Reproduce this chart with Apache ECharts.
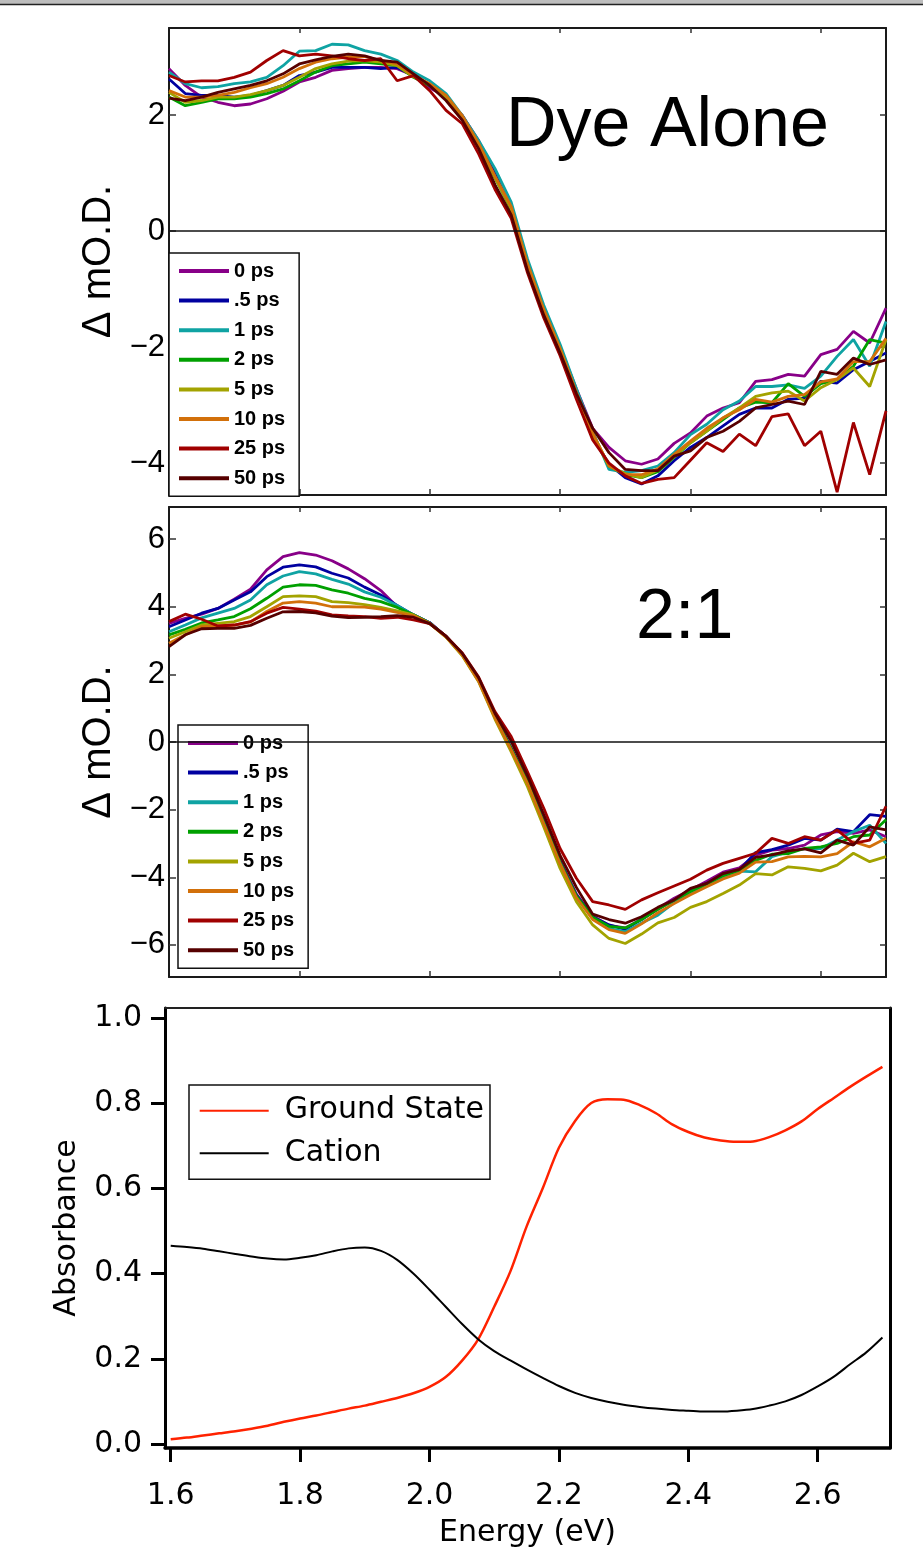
<!DOCTYPE html>
<html>
<head>
<meta charset="utf-8">
<script src="https://cdn.jsdelivr.net/npm/echarts@6/dist/echarts.min.js"></script>
<style>
  html, body { margin: 0; padding: 0; background: #fff; }
  #chart { width: 923px; height: 1554px; }
</style>
</head>
<body>
<div id="chart"></div>
<script>
// photon energy grid (eV), shared by all three panels
var energy = [1.6, 1.625, 1.65, 1.675, 1.7, 1.725, 1.75, 1.775, 1.8, 1.825, 1.85, 1.875, 1.9, 1.925, 1.95,
  1.975, 2.0, 2.025, 2.05, 2.075, 2.1, 2.125, 2.15, 2.175, 2.2, 2.225, 2.25, 2.275, 2.3, 2.325, 2.35,
  2.375, 2.4, 2.425, 2.45, 2.475, 2.5, 2.525, 2.55, 2.575, 2.6, 2.625, 2.65, 2.675, 2.7];

var delays = ['0 ps', '.5 ps', '1 ps', '2 ps', '5 ps', '10 ps', '25 ps', '50 ps'];
var delayColors = ['#880088', '#0000a0', '#0fa3a3', '#00a000', '#a3a300', '#d2700a', '#a00000', '#560000'];

// top panel: dye alone, delta mOD
var dye_0ps = [2.80, 2.51, 2.31, 2.22, 2.16, 2.19, 2.28, 2.41, 2.57, 2.65, 2.77, 2.80, 2.82, 2.82, 2.80, 2.68, 2.47, 2.31, 1.99, 1.56, 1.00,
  0.40, -0.58, -1.36, -2.00, -2.72, -3.40,
  -3.73, -3.96, -4.02, -3.93, -3.66, -3.48, -3.19, -3.05, -2.96, -2.59, -2.56, -2.47, -2.50, -2.13, -2.04, -1.73, -1.93, -1.33];
var dye_p5ps = [2.62, 2.37, 2.34, 2.34, 2.31, 2.34, 2.42, 2.51, 2.68, 2.74, 2.82, 2.82, 2.82, 2.80, 2.82, 2.68, 2.51, 2.31, 1.99, 1.51, 0.98,
  0.36, -0.62, -1.40, -2.06, -2.82, -3.55,
  -4.02, -4.25, -4.36, -4.22, -3.96, -3.73, -3.56, -3.36, -3.16, -3.05, -3.05, -2.90, -2.88, -2.59, -2.62, -2.39, -2.25, -2.10];
var dye_1ps = [2.74, 2.54, 2.47, 2.49, 2.54, 2.57, 2.65, 2.85, 3.10, 3.11, 3.22, 3.21, 3.11, 3.05, 2.94, 2.74, 2.59, 2.37, 1.99, 1.56, 1.08,
  0.50, -0.48, -1.28, -1.95, -2.72, -3.45,
  -4.11, -4.16, -4.13, -4.05, -3.82, -3.51, -3.33, -3.08, -2.93, -2.68, -2.68, -2.65, -2.71, -2.50, -2.16, -1.87, -2.33, -1.56];
var dye_2ps = [2.31, 2.16, 2.22, 2.28, 2.28, 2.31, 2.37, 2.45, 2.59, 2.74, 2.85, 2.88, 2.91, 2.88, 2.85, 2.65, 2.51, 2.31, 1.96, 1.48, 0.92,
  0.38, -0.60, -1.38, -2.04, -2.80, -3.50,
  -4.05, -4.20, -4.25, -4.15, -3.90, -3.65, -3.45, -3.25, -3.05, -2.95, -2.96, -2.63, -2.85, -2.63, -2.56, -2.33, -1.87, -1.93];
var dye_5ps = [2.39, 2.22, 2.25, 2.31, 2.31, 2.35, 2.42, 2.51, 2.65, 2.80, 2.88, 2.93, 2.94, 2.91, 2.85, 2.66, 2.53, 2.31, 1.96, 1.48, 0.92,
  0.38, -0.60, -1.38, -2.04, -2.80, -3.50,
  -4.05, -4.18, -4.25, -4.12, -3.88, -3.65, -3.45, -3.22, -3.05, -2.85, -2.79, -2.76, -2.93, -2.70, -2.56, -2.36, -2.68, -1.87];
var dye_10ps = [2.42, 2.31, 2.31, 2.34, 2.39, 2.47, 2.54, 2.65, 2.80, 2.91, 2.97, 3.00, 3.01, 2.94, 2.88, 2.68, 2.54, 2.34, 1.99, 1.51, 0.95,
  0.42, -0.56, -1.35, -2.02, -2.78, -3.48,
  -4.05, -4.20, -4.20, -4.10, -3.85, -3.62, -3.40, -3.22, -3.08, -2.90, -2.95, -2.85, -2.82, -2.60, -2.55, -2.25, -2.25, -1.85];
var dye_25ps = [2.68, 2.57, 2.59, 2.59, 2.65, 2.74, 2.94, 3.11, 3.02, 3.05, 3.02, 2.97, 2.94, 2.97, 2.59, 2.68, 2.42, 2.08, 1.85, 1.33, 0.72,
  0.22, -0.72, -1.50, -2.15, -2.90, -3.60,
  -4.00, -4.22, -4.35, -4.28, -4.25, -3.95, -3.65, -3.80, -3.50, -3.70, -3.20, -3.15, -3.70, -3.45, -4.50, -3.30, -4.20, -3.10];
var dye_50ps = [2.29, 2.25, 2.31, 2.39, 2.45, 2.51, 2.59, 2.71, 2.88, 2.95, 3.01, 3.05, 3.02, 2.94, 2.91, 2.71, 2.51, 2.25, 1.91, 1.42, 0.80,
  0.28, -0.68, -1.45, -2.10, -2.80, -3.40,
  -3.82, -4.11, -4.13, -4.13, -3.88, -3.79, -3.56, -3.45, -3.28, -3.05, -2.99, -2.93, -2.99, -2.42, -2.47, -2.19, -2.30, -2.22];

// middle panel: 2:1, delta mOD
var mix_0ps = [3.51, 3.66, 3.78, 3.95, 4.22, 4.52, 5.09, 5.48, 5.60, 5.53, 5.36, 5.12, 4.83, 4.48, 4.00, 3.76, 3.53, 3.12, 2.60, 1.85, 0.78,
  -0.18, -1.15, -2.33, -3.50, -4.50, -5.15,
  -5.42, -5.50, -5.25, -4.92, -4.62, -4.38, -4.12, -3.85, -3.72, -3.35, -3.20, -3.15, -3.05, -2.75, -2.65, -2.70, -2.60, -2.80];
var mix_p5ps = [3.41, 3.61, 3.81, 3.95, 4.20, 4.44, 4.89, 5.17, 5.24, 5.18, 4.99, 4.85, 4.58, 4.35, 4.04, 3.76, 3.53, 3.12, 2.60, 1.83, 0.76,
  -0.19, -1.17, -2.36, -3.54, -4.53, -5.17,
  -5.41, -5.54, -5.24, -4.95, -4.67, -4.40, -4.18, -3.96, -3.79, -3.27, -3.18, -3.05, -2.85, -2.90, -2.58, -2.65, -2.15, -2.20];
var mix_1ps = [3.26, 3.46, 3.67, 3.81, 3.95, 4.20, 4.65, 4.91, 5.04, 4.97, 4.81, 4.67, 4.44, 4.28, 4.04, 3.76, 3.52, 3.11, 2.58, 1.82, 0.74,
  -0.22, -1.20, -2.40, -3.58, -4.58, -5.22,
  -5.52, -5.61, -5.35, -5.12, -4.75, -4.48, -4.25, -4.00, -3.82, -3.84, -3.39, -3.25, -3.15, -3.15, -2.90, -2.65, -2.46, -3.00];
var mix_2ps = [3.17, 3.33, 3.52, 3.61, 3.71, 3.94, 4.25, 4.58, 4.65, 4.63, 4.50, 4.40, 4.25, 4.15, 3.98, 3.76, 3.52, 3.12, 2.58, 1.82, 0.74,
  -0.20, -1.18, -2.38, -3.56, -4.55, -5.18,
  -5.45, -5.50, -5.25, -4.95, -4.68, -4.42, -4.20, -3.95, -3.80, -3.50, -3.32, -3.30, -3.15, -3.10, -3.00, -2.80, -2.75, -2.30];
var mix_5ps = [3.07, 3.26, 3.46, 3.51, 3.56, 3.71, 4.00, 4.30, 4.32, 4.30, 4.15, 4.12, 4.06, 3.98, 3.88, 3.76, 3.50, 3.10, 2.55, 1.78, 0.68,
  -0.29, -1.32, -2.51, -3.74, -4.72, -5.41,
  -5.81, -5.96, -5.68, -5.35, -5.19, -4.89, -4.72, -4.48, -4.23, -3.89, -3.93, -3.69, -3.74, -3.81, -3.64, -3.29, -3.54, -3.39];
var mix_10ps = [2.92, 3.17, 3.41, 3.43, 3.46, 3.55, 3.86, 4.11, 4.15, 4.11, 4.00, 4.00, 3.99, 3.93, 3.83, 3.73, 3.51, 3.11, 2.57, 1.80, 0.72,
  -0.23, -1.22, -2.42, -3.60, -4.60, -5.25,
  -5.55, -5.66, -5.38, -5.05, -4.78, -4.52, -4.28, -4.05, -3.88, -3.55, -3.54, -3.40, -3.38, -3.40, -3.30, -2.95, -3.10, -2.85];
var mix_25ps = [3.56, 3.78, 3.63, 3.43, 3.46, 3.56, 3.81, 3.98, 3.93, 3.87, 3.76, 3.73, 3.71, 3.66, 3.69, 3.61, 3.50, 3.13, 2.63, 1.92, 0.90,
  0.16, -0.88, -1.96, -3.15, -4.03, -4.72,
  -4.82, -4.95, -4.67, -4.46, -4.26, -4.06, -3.79, -3.59, -3.44, -3.29, -2.85, -3.00, -2.80, -2.90, -2.60, -3.00, -2.90, -1.90];
var mix_50ps = [2.82, 3.17, 3.35, 3.36, 3.36, 3.45, 3.66, 3.85, 3.86, 3.82, 3.72, 3.68, 3.69, 3.71, 3.74, 3.69, 3.50, 3.13, 2.62, 1.90, 0.85,
  0.02, -1.00, -2.15, -3.35, -4.30, -5.09,
  -5.25, -5.36, -5.17, -4.89, -4.67, -4.33, -4.18, -3.89, -3.77, -3.41, -3.34, -3.22, -3.16, -3.28, -2.90, -3.05, -2.51, -2.60];

// bottom panel: steady-state absorbance
var groundState = [0.011, 0.015, 0.020, 0.025, 0.030, 0.036, 0.043, 0.052, 0.060, 0.067, 0.075, 0.083, 0.090, 0.099, 0.108,
  0.119, 0.134, 0.157, 0.195, 0.245, 0.322, 0.405, 0.510, 0.600, 0.695, 0.758, 0.800, 0.809, 0.808, 0.795, 0.776,
  0.750, 0.732, 0.719, 0.712, 0.709, 0.710, 0.720, 0.736, 0.757, 0.786, 0.812, 0.838, 0.862, 0.885];
var cation = [0.465, 0.462, 0.458, 0.452, 0.446, 0.440, 0.435, 0.433, 0.437, 0.443, 0.452, 0.459, 0.461, 0.453, 0.432,
  0.400, 0.362, 0.322, 0.282, 0.246, 0.218, 0.196, 0.175, 0.155, 0.136, 0.120, 0.108, 0.099, 0.092, 0.087, 0.083,
  0.080, 0.078, 0.076, 0.076, 0.078, 0.082, 0.090, 0.100, 0.115, 0.135, 0.158, 0.187, 0.215, 0.250];

var dyeSets = [dye_0ps, dye_p5ps, dye_1ps, dye_2ps, dye_5ps, dye_10ps, dye_25ps, dye_50ps];
var mixSets = [mix_0ps, mix_p5ps, mix_1ps, mix_2ps, mix_5ps, mix_10ps, mix_25ps, mix_50ps];

var energyTicks = [1.6, 1.8, 2.0, 2.2, 2.4, 2.6];
var dyeTicks = [-4, -2, 0, 2];
var mixTicks = [-6, -4, -2, 0, 2, 4, 6];
var absTicks = [0, 0.2, 0.4, 0.6, 0.8, 1.0];

var helv = "'Liberation Sans', Arial, sans-serif";
var lucida = "'DejaVu Sans', sans-serif";

function pairs(ys) {
  return energy.map(function (e, i) { return [e, ys[i]]; });
}
function signed(v) {
  return v < 0 ? '\u2212' + Math.abs(v) : String(v);
}

var frameLine = { show: true, onZero: false, lineStyle: { color: '#1a1a1a', width: 2 } };

function kineticX(gi, pos, len) {
  return {
    type: 'value', gridIndex: gi, position: pos, min: 1.6, max: 2.7,
    axisLine: frameLine,
    axisTick: { show: true, inside: true, length: len, customValues: [1.8, 2.0, 2.2, 2.4, 2.6],
      lineStyle: { color: '#333', width: 1.5 } },
    axisLabel: { show: false }, splitLine: { show: false }
  };
}
function kineticY(gi, min, max, ticks) {
  return {
    type: 'value', gridIndex: gi, position: 'left', min: min, max: max,
    name: '\u0394 mO.D.', nameLocation: 'middle', nameGap: 42, nameRotate: 90,
    nameTextStyle: { fontFamily: helv, fontSize: 40, color: '#000' },
    axisLine: frameLine,
    axisTick: { show: true, inside: true, length: 7, customValues: ticks, lineStyle: { color: '#333', width: 1.5 } },
    axisLabel: { show: true, customValues: ticks, formatter: signed, margin: 4,
      fontFamily: helv, fontSize: 31, color: '#000' },
    splitLine: { show: false }
  };
}
function kineticYRight(gi, min, max, ticks) {
  return {
    type: 'value', gridIndex: gi, position: 'right', min: min, max: max,
    axisLine: frameLine,
    axisTick: { show: true, inside: true, length: 6, customValues: ticks, lineStyle: { color: '#333', width: 1.5 } },
    axisLabel: { show: false }, splitLine: { show: false }
  };
}
function kineticLegend(left, top) {
  return {
    orient: 'vertical', left: left, top: top, data: delays, selectedMode: false,
    icon: 'rect', itemWidth: 50, itemHeight: 4, itemGap: 9.6,
    padding: [8, 14, 8, 10], backgroundColor: '#fff', borderColor: '#111', borderWidth: 1.5, borderRadius: 0,
    textStyle: { fontFamily: helv, fontWeight: 'bold', fontSize: 20, lineHeight: 20, color: '#000' }
  };
}
var zeroLine = {
  silent: true, symbol: 'none', label: { show: false },
  lineStyle: { color: '#111', width: 1.5, type: 'solid' },
  data: [{ yAxis: 0 }]
};

var series = [];
dyeSets.forEach(function (ys, i) {
  var s = {
    name: delays[i], type: 'line', xAxisIndex: 0, yAxisIndex: 0, data: pairs(ys),
    symbol: 'none', color: delayColors[i], lineStyle: { width: 2.8 }, emphasis: { disabled: true }
  };
  if (i === 0) s.markLine = zeroLine;
  series.push(s);
});
mixSets.forEach(function (ys, i) {
  var s = {
    name: delays[i], type: 'line', xAxisIndex: 2, yAxisIndex: 2, data: pairs(ys),
    symbol: 'none', color: delayColors[i], lineStyle: { width: 2.8 }, emphasis: { disabled: true }
  };
  if (i === 0) s.markLine = zeroLine;
  series.push(s);
});
series.push({
  name: 'Ground State', type: 'line', xAxisIndex: 4, yAxisIndex: 4, data: pairs(groundState),
  symbol: 'none', smooth: 0.3, color: '#ff2200', lineStyle: { width: 2.5 }, emphasis: { disabled: true }
});
series.push({
  name: 'Cation', type: 'line', xAxisIndex: 4, yAxisIndex: 4, data: pairs(cation),
  symbol: 'none', smooth: 0.3, color: '#000', lineStyle: { width: 2 }, emphasis: { disabled: true }
});

var option = {
  animation: false,
  backgroundColor: '#fff',
  grid: [
    { left: 169, top: 28, width: 717, height: 467 },
    { left: 169, top: 507, width: 717, height: 470 },
    { left: 165, top: 1008, width: 725, height: 440 }
  ],
  xAxis: [
    kineticX(0, 'bottom', 6), kineticX(0, 'top', 5),
    kineticX(1, 'bottom', 6), kineticX(1, 'top', 5),
    {
      type: 'value', gridIndex: 2, position: 'bottom', min: 1.5912, max: 2.7117,
      name: 'Energy (eV)', nameLocation: 'middle', nameGap: 70,
      nameTextStyle: { fontFamily: lucida, fontSize: 30, color: '#000' },
      axisLine: { show: true, onZero: false, lineStyle: { color: '#000', width: 3.5 } },
      axisTick: { show: true, length: 14, customValues: energyTicks, lineStyle: { color: '#000', width: 3 } },
      axisLabel: { show: true, customValues: energyTicks, margin: 33,
        formatter: function (v) { return v.toFixed(1); },
        fontFamily: lucida, fontSize: 30, color: '#000' },
      splitLine: { show: false }
    },
    {
      type: 'value', gridIndex: 2, position: 'top', min: 1.5912, max: 2.7117,
      axisLine: { show: true, onZero: false, lineStyle: { color: '#222', width: 2 } },
      axisTick: { show: false }, axisLabel: { show: false }, splitLine: { show: false }
    }
  ],
  yAxis: [
    kineticY(0, -4.55, 3.5, dyeTicks), kineticYRight(0, -4.55, 3.5, dyeTicks),
    kineticY(1, -6.95, 6.95, mixTicks), kineticYRight(1, -6.95, 6.95, mixTicks),
    {
      type: 'value', gridIndex: 2, position: 'left', min: -0.0094, max: 1.023,
      name: 'Absorbance', nameLocation: 'middle', nameGap: 83, nameRotate: 90,
      nameTextStyle: { fontFamily: lucida, fontSize: 30, color: '#000' },
      axisLine: { show: true, onZero: false, lineStyle: { color: '#000', width: 3 } },
      axisTick: { show: true, length: 14, customValues: absTicks, lineStyle: { color: '#000', width: 3 } },
      axisLabel: { show: true, customValues: absTicks, margin: 23,
        formatter: function (v) { return v.toFixed(1); },
        fontFamily: lucida, fontSize: 30, color: '#000' },
      splitLine: { show: false }
    },
    {
      type: 'value', gridIndex: 2, position: 'right', min: -0.0094, max: 1.023,
      axisLine: { show: true, onZero: false, lineStyle: { color: '#000', width: 3 } },
      axisTick: { show: false }, axisLabel: { show: false }, splitLine: { show: false }
    }
  ],
  legend: [
    kineticLegend(169, 253),
    kineticLegend(178, 725),
    {
      orient: 'vertical', left: 189, top: 1085, data: ['Ground State', 'Cation'], selectedMode: false,
      icon: 'rect', itemWidth: 69, itemHeight: 2, itemGap: 12.6,
      padding: [10.7, 6, 11, 10.7], backgroundColor: '#fff', borderColor: '#111', borderWidth: 1.5, borderRadius: 0,
      textStyle: { fontFamily: lucida, fontSize: 30, lineHeight: 30, color: '#000', padding: [0, 0, 0, 11] }
    }
  ],
  graphic: [
    { type: 'rect', silent: true, shape: { x: 0, y: 0, width: 923, height: 4 }, style: { fill: '#bdbdbd' } },
    { type: 'line', silent: true, shape: { x1: 0, y1: 4.5, x2: 923, y2: 4.5 }, style: { stroke: '#222', lineWidth: 1.5 } },
    { type: 'text', silent: true, x: 506, y: 127,
      style: { text: 'Dye Alone', fontFamily: helv, fontSize: 70, fill: '#000', verticalAlign: 'middle' } },
    { type: 'text', silent: true, x: 636, y: 619,
      style: { text: '2:1', fontFamily: helv, fontSize: 70, fill: '#000', verticalAlign: 'middle' } }
  ],
  series: series
};

var chart = echarts.init(document.getElementById('chart'));
chart.setOption(option);
</script>
</body>
</html>
